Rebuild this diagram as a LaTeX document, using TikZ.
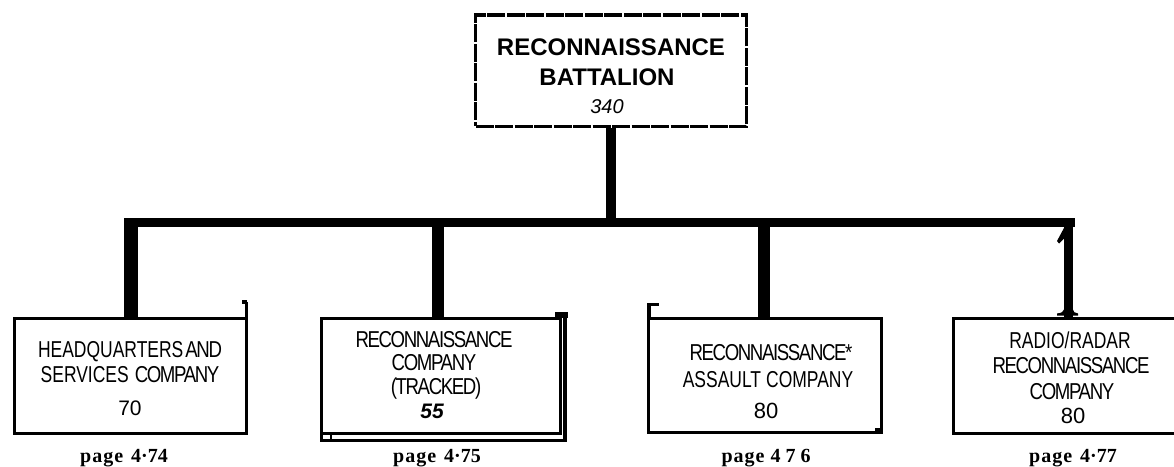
\documentclass[tikz,border=0pt]{standalone}
\usepackage{fontspec}
\setmainfont{Liberation Sans}
\newfontfamily\nar[FakeStretch=0.76]{Liberation Sans}
\newfontfamily\sq[FakeStretch=0.81]{Liberation Sans}
\newfontfamily\pagefont{Liberation Serif}
\tikzset{
  x=1pt, y=-1pt,
  boxshape/.style={draw, line width=3pt, rectangle, inner sep=0pt, minimum width=#1},
  boxshape/.default=233pt,
  topbox/.style={draw, line width=3.5pt, dash pattern=on 18pt off 1.5pt, rectangle, inner sep=0pt},
  linetxt/.style={anchor=base, inner sep=0pt, font=\nar\fontsize{23}{23}\selectfont},
  sqtxt/.style={anchor=base, inner sep=0pt, font=\sq\fontsize{23}{23}\selectfont\addfontfeature{LetterSpace=-6}},
  numtxt/.style={anchor=base, inner sep=0pt, font=\fontsize{22}{22}\selectfont},
  pagelbl/.style={anchor=base, inner sep=0pt, font=\pagefont\bfseries\fontsize{20}{20}\selectfont},
  conn/.style={line cap=butt},
}
\begin{document}
\begin{tikzpicture}
\useasboundingbox (0,0) rectangle (1174,466);
\clip (0,0) rectangle (1174,466);

% ---- top box
\node[topbox, minimum width=271pt, minimum height=111.5pt] (top) at (611,70.5) {};
\node[anchor=base, inner sep=0pt, font=\bfseries\fontsize{24}{24}\selectfont] (t1) at (611,55) {RECONNAISSANCE};
\node[anchor=base, inner sep=0pt, font=\bfseries\fontsize{24}{24}\selectfont] (t2) at (607,85) {BATTALION};
\node[anchor=base, inner sep=0pt, font=\itshape\fontsize{20}{20}\selectfont] (t3) at (607,113) {340};

% ---- lower boxes
\node[boxshape=232pt, minimum height=115pt] (b1) at (130.5,376) {};
\node[boxshape=239pt, minimum height=115pt] (b2) at (441,376) {};
\node[boxshape=233pt, minimum height=114pt] (b3) at (765,375.5) {};
\node[boxshape=233pt, minimum height=115pt] (b4) at (1070,376) {};

% ---- junctions on the bar
\coordinate (jL) at (124,222.5);
\coordinate (jR) at (1075,222.5);
\coordinate (j0) at (611,218);
\coordinate (j1) at (131,218);
\coordinate (j2) at (438,227);
\coordinate (j3) at (764,227);
\coordinate (j4) at (1068.5,227);

% ---- connectors
\draw[conn, line width=10pt] (top.south) -- (j0);
\draw[conn, line width=9pt] (jL) -- (jR);
\draw[conn, line width=14pt] (j1) -- (j1 |- b1.north);
\draw[conn, line width=12pt] (j2) -- (j2 |- b2.north);
\draw[conn, line width=12pt] (j3) -- (j3 |- b3.north);
\draw[conn, line width=8.5pt] (j4) -- ([yshift=-3pt]j4 |- b4.north);
% serif flag and foot of the right-hand connector
\fill (1073,227) -- (1064.5,227) -- (1057,241) -- (1059,243.5) -- (1064.5,238) -- cycle;
\fill (1064.3,309) .. controls (1064,312) and (1061,313) .. (1057,313.5) -- (1057,315.5) -- (1078,315.5) -- (1078,313.5)
      .. controls (1075,313) and (1072.7,312) .. (1072.7,309) -- cycle;

% ---- small marks of box 1
\fill (244.5,302) rectangle (248,317);
\fill (242,300) rectangle (246.5,304);

% ---- double frame of box 2
\draw[line width=3.5pt] (321.5,433) -- (321.5,440.5) -- (565,440.5) -- (565,313);
\draw[line width=2pt] (331,434) -- (331,440);
\fill (555,312) rectangle (567.5,318);

% ---- marks of box 3
\draw[line width=3.5pt, line cap=butt] (648.8,317) -- (648.8,304.5) -- (659,304.5);
\fill (875,428) rectangle (883,434);

% ---- box texts
\node[linetxt] (b1a) at (130,357) {HEADQUARTERS\kern2pt{\sq\addfontfeature{LetterSpace=-6}AND}};
\node[linetxt] (b1b) at (130,382) {SERVICES\kern6pt{\sq\addfontfeature{LetterSpace=-6}COMPANY}};
\node[numtxt, font=\fontsize{21}{21}\selectfont] (b1c) at (130,415) {70};

\node[sqtxt] (b2a) at (434,347) {RECONNAISSANCE};
\node[sqtxt] (b2b) at (434,370) {COMPANY};
\node[sqtxt] (b2c) at (436,394) {(TRACKED)};
\node[numtxt, font=\bfseries\itshape\fontsize{21}{21}\selectfont] (b2d) at (432,418) {55};

\node[sqtxt] (b3a) at (771,360) {RECONNAISSANCE*};
\node[linetxt] (b3b) at (768,387) {ASSAULT\kern5pt COMPANY};
\node[numtxt] (b3c) at (766,418) {80};

\node[linetxt] (b4a) at (1070,348) {RADIO/RADAR};
\node[sqtxt] (b4b) at (1071,373) {RECONNAISSANCE};
\node[sqtxt] (b4c) at (1072,399) {COMPANY};
\node[numtxt] (b4d) at (1073,423) {80};

% ---- page labels
\node[pagelbl] (p1) at (124,462) {p\kern1pt a\kern1pt g\kern1pt e\hspace{8pt}4·74};
\node[pagelbl] (p2) at (437,462) {p\kern1pt a\kern1pt g\kern1pt e\hspace{8pt}4·75};
\node[pagelbl] (p3) at (766,462) {p\kern1pt a\kern1pt g\kern1pt e\hspace{6pt}4\hspace{5pt}7\hspace{5pt}6};
\node[pagelbl] (p4) at (1073,462) {p\kern1pt a\kern1pt g\kern1pt e\hspace{8pt}4·77};
\end{tikzpicture}
\end{document}
